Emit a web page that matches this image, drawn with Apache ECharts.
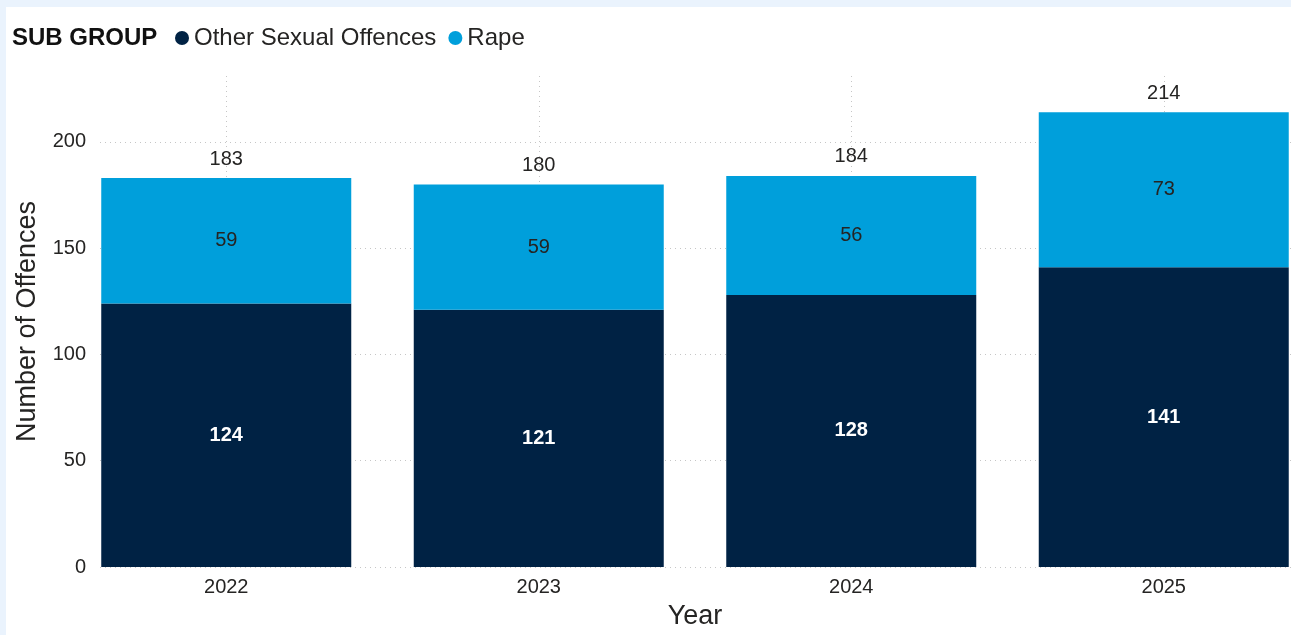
<!DOCTYPE html>
<html>
<head>
<meta charset="utf-8">
<script src="https://cdn.jsdelivr.net/npm/echarts@6/dist/echarts.min.js"></script>
<style>
  html, body { margin:0; padding:0; background:#EAF3FD; width:1291px; height:635px; overflow:hidden; position:relative; }
  #chart { position:absolute; left:6px; top:7px; width:1320px; height:628px; background:#ffffff; }
</style>
</head>
<body>
<div id="chart"></div>
<script>
const years = ['2022', '2023', '2024', '2025'];
const otherSexualOffences = [124, 121, 128, 141];
const rape = [59, 59, 56, 73];
const totals = [183, 180, 184, 214];
const seriesNames = ['Other Sexual Offences', 'Rape'];
const legendTitle = 'SUB GROUP';
const xTitle = 'Year';
const yTitle = 'Number of Offences';

const FONT = 'Arial, "Liberation Sans", Helvetica, sans-serif';
const TEXT = '#252423';
const GRID_LINE = { type: [1, 4], color: '#c6c6c6', width: 1 };

const chart = echarts.init(document.getElementById('chart'));
chart.setOption({
  animation: false,
  textStyle: { fontFamily: FONT },
  title: {
    text: legendTitle, left: 6, top: 19, padding: 0,
    textStyle: { fontFamily: FONT, fontSize: 24, fontWeight: 'bold', color: '#111' }
  },
  legend: {
    data: seriesNames, left: 169, top: 19, padding: 0, icon: 'circle',
    itemWidth: 14, itemHeight: 14, itemGap: 12,
    textStyle: { fontFamily: FONT, fontSize: 24, color: TEXT }
  },
  grid: [
    { left: 91, width: 1194, top: 69, bottom: 68 },
    { left: 64, width: 1250, top: 69, bottom: 68 }
  ],
  xAxis: [
    { gridIndex: 0, type: 'category', data: years, show: false },
    {
      gridIndex: 1, type: 'category', data: years,
      axisLine: { show: false }, axisTick: { show: false },
      axisLabel: { fontFamily: FONT, fontSize: 20, color: TEXT, margin: 10 },
      splitLine: { show: true, alignWithLabel: true, lineStyle: GRID_LINE },
      name: xTitle, nameLocation: 'middle', nameGap: 36,
      nameTextStyle: { fontFamily: FONT, fontSize: 27, color: TEXT }
    }
  ],
  yAxis: [
    {
      gridIndex: 0, type: 'value', min: 0, max: 231, interval: 50,
      axisLine: { show: false }, axisTick: { show: false },
      axisLabel: { fontFamily: FONT, fontSize: 20, color: TEXT, margin: 14, showMaxLabel: false },
      splitLine: { show: true, showMaxLine: false, lineStyle: GRID_LINE },
      name: yTitle, nameLocation: 'middle', nameGap: 59,
      nameTextStyle: { fontFamily: FONT, fontSize: 27, color: TEXT }
    },
    { gridIndex: 1, type: 'value', min: 0, max: 231, interval: 50, show: false, splitLine: { show: false } }
  ],
  series: [
    {
      name: seriesNames[0], type: 'bar', stack: 'total', xAxisIndex: 1, yAxisIndex: 1,
      data: otherSexualOffences, barCategoryGap: '20%',
      itemStyle: { color: '#002244' },
      label: { show: true, position: 'inside', fontFamily: FONT, fontSize: 20, fontWeight: 'bold', color: '#ffffff' }
    },
    {
      name: seriesNames[1], type: 'bar', stack: 'total', xAxisIndex: 1, yAxisIndex: 1,
      data: rape, barCategoryGap: '20%',
      itemStyle: { color: '#009FDB' },
      label: { show: true, position: 'inside', fontFamily: FONT, fontSize: 20, color: TEXT }
    },
    {
      name: 'Total', type: 'line', xAxisIndex: 1, yAxisIndex: 1, data: totals,
      symbol: 'circle', symbolSize: 0, lineStyle: { opacity: 0 }, silent: true,
      label: { show: true, position: 'top', distance: 9, fontFamily: FONT, fontSize: 20, color: TEXT }
    }
  ]
});
</script>
</body>
</html>
